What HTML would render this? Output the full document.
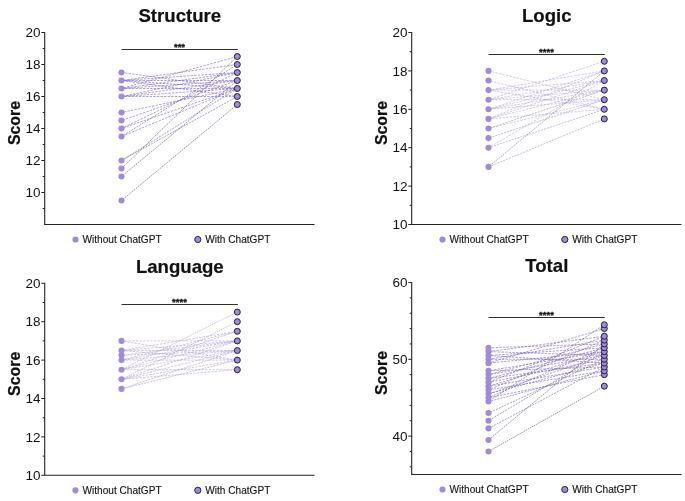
<!DOCTYPE html>
<html><head><meta charset="utf-8"><style>
html,body{margin:0;padding:0;background:#fff;}
svg{display:block;will-change:transform;transform:translateZ(0);font-family:"Liberation Sans",sans-serif;fill:#111;}
</style></head><body>
<svg width="685" height="501" viewBox="0 0 685 501">
<rect width="685" height="501" fill="#fff"/>
<text x="179.8" y="22.3" text-anchor="middle" font-size="18.6" font-weight="bold" stroke="#111" stroke-width="0.2">Structure</text>
<path d="M44.7 32.0V224.5H314.5" fill="none" stroke="#222" stroke-width="1.1"/>
<path d="M41.300000000000004 32.50H44.7" stroke="#222" stroke-width="1"/>
<text x="40.5" y="37.10" text-anchor="end" font-size="13.5">20</text>
<path d="M41.300000000000004 64.50H44.7" stroke="#222" stroke-width="1"/>
<text x="40.5" y="69.10" text-anchor="end" font-size="13.5">18</text>
<path d="M41.300000000000004 96.50H44.7" stroke="#222" stroke-width="1"/>
<text x="40.5" y="101.10" text-anchor="end" font-size="13.5">16</text>
<path d="M41.300000000000004 128.50H44.7" stroke="#222" stroke-width="1"/>
<text x="40.5" y="133.10" text-anchor="end" font-size="13.5">14</text>
<path d="M41.300000000000004 160.50H44.7" stroke="#222" stroke-width="1"/>
<text x="40.5" y="165.10" text-anchor="end" font-size="13.5">12</text>
<path d="M41.300000000000004 192.50H44.7" stroke="#222" stroke-width="1"/>
<text x="40.5" y="197.10" text-anchor="end" font-size="13.5">10</text>
<path d="M42.7 48.50H44.7" stroke="#222" stroke-width="1"/>
<path d="M42.7 80.50H44.7" stroke="#222" stroke-width="1"/>
<path d="M42.7 112.50H44.7" stroke="#222" stroke-width="1"/>
<path d="M42.7 144.50H44.7" stroke="#222" stroke-width="1"/>
<path d="M42.7 176.50H44.7" stroke="#222" stroke-width="1"/>
<path d="M42.7 208.50H44.7" stroke="#222" stroke-width="1"/>
<text transform="translate(20.2 123) rotate(-90)" text-anchor="middle" font-size="15.9" font-weight="bold" stroke="#111" stroke-width="0.25">Score</text>
<path d="M121.5 72.50L237.3 88.50" stroke="#7a62b8" stroke-width="0.6" stroke-dasharray="2.4 1.2" stroke-dashoffset="0.00" fill="none"/>
<path d="M121.5 80.50L237.3 64.50" stroke="#7a62b8" stroke-width="0.6" stroke-dasharray="2.4 1.2" stroke-dashoffset="1.37" fill="none"/>
<path d="M121.5 80.50L237.3 72.50" stroke="#7a62b8" stroke-width="0.6" stroke-dasharray="2.4 1.2" stroke-dashoffset="2.74" fill="none"/>
<path d="M121.5 80.50L237.3 80.50" stroke="#7a62b8" stroke-width="0.6" stroke-dasharray="2.4 1.2" stroke-dashoffset="0.51" fill="none"/>
<path d="M121.5 80.50L237.3 88.50" stroke="#7a62b8" stroke-width="0.6" stroke-dasharray="2.4 1.2" stroke-dashoffset="1.88" fill="none"/>
<path d="M121.5 80.50L237.3 96.50" stroke="#7a62b8" stroke-width="0.6" stroke-dasharray="2.4 1.2" stroke-dashoffset="3.25" fill="none"/>
<path d="M121.5 88.50L237.3 72.50" stroke="#7a62b8" stroke-width="0.6" stroke-dasharray="2.4 1.2" stroke-dashoffset="1.02" fill="none"/>
<path d="M121.5 88.50L237.3 80.50" stroke="#7a62b8" stroke-width="0.6" stroke-dasharray="2.4 1.2" stroke-dashoffset="2.39" fill="none"/>
<path d="M121.5 88.50L237.3 88.50" stroke="#7a62b8" stroke-width="0.6" stroke-dasharray="2.4 1.2" stroke-dashoffset="0.16" fill="none"/>
<path d="M121.5 88.50L237.3 56.50" stroke="#7a62b8" stroke-width="0.6" stroke-dasharray="2.4 1.2" stroke-dashoffset="1.53" fill="none"/>
<path d="M121.5 96.50L237.3 72.50" stroke="#7a62b8" stroke-width="0.6" stroke-dasharray="2.4 1.2" stroke-dashoffset="2.90" fill="none"/>
<path d="M121.5 96.50L237.3 96.50" stroke="#7a62b8" stroke-width="0.6" stroke-dasharray="2.4 1.2" stroke-dashoffset="0.67" fill="none"/>
<path d="M121.5 96.50L237.3 80.50" stroke="#7a62b8" stroke-width="0.6" stroke-dasharray="2.4 1.2" stroke-dashoffset="2.04" fill="none"/>
<path d="M121.5 96.50L237.3 88.50" stroke="#7a62b8" stroke-width="0.6" stroke-dasharray="2.4 1.2" stroke-dashoffset="3.41" fill="none"/>
<path d="M121.5 112.50L237.3 88.50" stroke="#7a62b8" stroke-width="0.6" stroke-dasharray="2.4 1.2" stroke-dashoffset="1.18" fill="none"/>
<path d="M121.5 120.50L237.3 80.50" stroke="#7a62b8" stroke-width="0.6" stroke-dasharray="2.4 1.2" stroke-dashoffset="2.55" fill="none"/>
<path d="M121.5 128.50L237.3 72.50" stroke="#7a62b8" stroke-width="0.6" stroke-dasharray="2.4 1.2" stroke-dashoffset="0.32" fill="none"/>
<path d="M121.5 128.50L237.3 88.50" stroke="#7a62b8" stroke-width="0.6" stroke-dasharray="2.4 1.2" stroke-dashoffset="1.69" fill="none"/>
<path d="M121.5 136.50L237.3 88.50" stroke="#7a62b8" stroke-width="0.6" stroke-dasharray="2.4 1.2" stroke-dashoffset="3.06" fill="none"/>
<path d="M121.5 136.50L237.3 64.50" stroke="#6c5f9a" stroke-width="0.6" stroke-dasharray="2 1.1" stroke-dashoffset="0.83" fill="none"/>
<path d="M121.5 160.50L237.3 88.50" stroke="#6c5f9a" stroke-width="0.6" stroke-dasharray="2 1.1" stroke-dashoffset="2.20" fill="none"/>
<path d="M121.5 160.50L237.3 96.50" stroke="#6c5f9a" stroke-width="0.6" stroke-dasharray="2 1.1" stroke-dashoffset="3.57" fill="none"/>
<path d="M121.5 168.50L237.3 56.50" stroke="#4d4668" stroke-width="0.6" stroke-dasharray="1.5 0.9" stroke-dashoffset="1.34" fill="none"/>
<path d="M121.5 176.50L237.3 80.50" stroke="#4d4668" stroke-width="0.6" stroke-dasharray="1.5 0.9" stroke-dashoffset="2.71" fill="none"/>
<path d="M121.5 200.50L237.3 104.50" stroke="#4d4668" stroke-width="0.6" stroke-dasharray="1.5 0.9" stroke-dashoffset="0.48" fill="none"/>
<circle cx="121.5" cy="200.50" r="3.05" fill="#a18ad6"/>
<circle cx="121.5" cy="176.50" r="3.05" fill="#a18ad6"/>
<circle cx="121.5" cy="168.50" r="3.05" fill="#a18ad6"/>
<circle cx="121.5" cy="160.50" r="3.05" fill="#a18ad6"/>
<circle cx="121.5" cy="136.50" r="3.05" fill="#a18ad6"/>
<circle cx="121.5" cy="128.50" r="3.05" fill="#a18ad6"/>
<circle cx="121.5" cy="120.50" r="3.05" fill="#a18ad6"/>
<circle cx="121.5" cy="112.50" r="3.05" fill="#a18ad6"/>
<circle cx="121.5" cy="96.50" r="3.05" fill="#a18ad6"/>
<circle cx="121.5" cy="88.50" r="3.05" fill="#a18ad6"/>
<circle cx="121.5" cy="80.50" r="3.05" fill="#a18ad6"/>
<circle cx="121.5" cy="72.50" r="3.05" fill="#a18ad6"/>
<circle cx="237.3" cy="104.50" r="3" fill="#a18ad6" stroke="#221c44" stroke-width="1"/>
<circle cx="237.3" cy="96.50" r="3" fill="#a18ad6" stroke="#221c44" stroke-width="1"/>
<circle cx="237.3" cy="88.50" r="3" fill="#a18ad6" stroke="#221c44" stroke-width="1"/>
<circle cx="237.3" cy="80.50" r="3" fill="#a18ad6" stroke="#221c44" stroke-width="1"/>
<circle cx="237.3" cy="72.50" r="3" fill="#a18ad6" stroke="#221c44" stroke-width="1"/>
<circle cx="237.3" cy="64.50" r="3" fill="#a18ad6" stroke="#221c44" stroke-width="1"/>
<circle cx="237.3" cy="56.50" r="3" fill="#a18ad6" stroke="#221c44" stroke-width="1"/>
<path d="M121.5 49.5H237.8" stroke="#2e2e2e" stroke-width="1"/>
<text x="179.5" y="49.6" text-anchor="middle" font-size="9.5" font-weight="bold" stroke="#111" stroke-width="0.3">***</text>
<circle cx="75.5" cy="239.5" r="3.1" fill="#a18ad6"/>
<text x="82.5" y="243.1" font-size="10.1" stroke="#111" stroke-width="0.12">Without ChatGPT</text>
<circle cx="197.8" cy="239.5" r="3.1" fill="#a18ad6" stroke="#221c44" stroke-width="1"/>
<text x="205.3" y="243.1" font-size="10.1" stroke="#111" stroke-width="0.12">With ChatGPT</text>
<text x="546.8" y="22.3" text-anchor="middle" font-size="18.6" font-weight="bold" stroke="#111" stroke-width="0.2">Logic</text>
<path d="M411.7 32.0V224.5H681.5" fill="none" stroke="#222" stroke-width="1.1"/>
<path d="M408.3 32.50H411.7" stroke="#222" stroke-width="1"/>
<text x="407.5" y="37.10" text-anchor="end" font-size="13.5">20</text>
<path d="M408.3 70.90H411.7" stroke="#222" stroke-width="1"/>
<text x="407.5" y="75.50" text-anchor="end" font-size="13.5">18</text>
<path d="M408.3 109.30H411.7" stroke="#222" stroke-width="1"/>
<text x="407.5" y="113.90" text-anchor="end" font-size="13.5">16</text>
<path d="M408.3 147.70H411.7" stroke="#222" stroke-width="1"/>
<text x="407.5" y="152.30" text-anchor="end" font-size="13.5">14</text>
<path d="M408.3 186.10H411.7" stroke="#222" stroke-width="1"/>
<text x="407.5" y="190.70" text-anchor="end" font-size="13.5">12</text>
<path d="M408.3 224.50H411.7" stroke="#222" stroke-width="1"/>
<text x="407.5" y="229.10" text-anchor="end" font-size="13.5">10</text>
<path d="M409.7 51.70H411.7" stroke="#222" stroke-width="1"/>
<path d="M409.7 90.10H411.7" stroke="#222" stroke-width="1"/>
<path d="M409.7 128.50H411.7" stroke="#222" stroke-width="1"/>
<path d="M409.7 166.90H411.7" stroke="#222" stroke-width="1"/>
<path d="M409.7 205.30H411.7" stroke="#222" stroke-width="1"/>
<text transform="translate(387.2 123) rotate(-90)" text-anchor="middle" font-size="15.9" font-weight="bold" stroke="#111" stroke-width="0.25">Score</text>
<path d="M488.5 70.90L604.3 99.70" stroke="#b7a8dc" stroke-width="0.6" stroke-dasharray="2.4 1.2" stroke-dashoffset="0.00" fill="none"/>
<path d="M488.5 80.50L604.3 109.30" stroke="#b7a8dc" stroke-width="0.6" stroke-dasharray="2.4 1.2" stroke-dashoffset="1.37" fill="none"/>
<path d="M488.5 90.10L604.3 90.10" stroke="#b7a8dc" stroke-width="0.6" stroke-dasharray="2.4 1.2" stroke-dashoffset="2.74" fill="none"/>
<path d="M488.5 90.10L604.3 80.50" stroke="#b7a8dc" stroke-width="0.6" stroke-dasharray="2.4 1.2" stroke-dashoffset="0.51" fill="none"/>
<path d="M488.5 90.10L604.3 109.30" stroke="#b7a8dc" stroke-width="0.6" stroke-dasharray="2.4 1.2" stroke-dashoffset="1.88" fill="none"/>
<path d="M488.5 90.10L604.3 70.90" stroke="#b7a8dc" stroke-width="0.6" stroke-dasharray="2.4 1.2" stroke-dashoffset="3.25" fill="none"/>
<path d="M488.5 99.70L604.3 90.10" stroke="#b7a8dc" stroke-width="0.6" stroke-dasharray="2.4 1.2" stroke-dashoffset="1.02" fill="none"/>
<path d="M488.5 99.70L604.3 80.50" stroke="#b7a8dc" stroke-width="0.6" stroke-dasharray="2.4 1.2" stroke-dashoffset="2.39" fill="none"/>
<path d="M488.5 99.70L604.3 99.70" stroke="#b7a8dc" stroke-width="0.6" stroke-dasharray="2.4 1.2" stroke-dashoffset="0.16" fill="none"/>
<path d="M488.5 99.70L604.3 61.30" stroke="#b7a8dc" stroke-width="0.6" stroke-dasharray="2.4 1.2" stroke-dashoffset="1.53" fill="none"/>
<path d="M488.5 109.30L604.3 90.10" stroke="#b7a8dc" stroke-width="0.6" stroke-dasharray="2.4 1.2" stroke-dashoffset="2.90" fill="none"/>
<path d="M488.5 109.30L604.3 80.50" stroke="#b7a8dc" stroke-width="0.6" stroke-dasharray="2.4 1.2" stroke-dashoffset="0.67" fill="none"/>
<path d="M488.5 109.30L604.3 99.70" stroke="#b7a8dc" stroke-width="0.6" stroke-dasharray="2.4 1.2" stroke-dashoffset="2.04" fill="none"/>
<path d="M488.5 109.30L604.3 70.90" stroke="#b7a8dc" stroke-width="0.6" stroke-dasharray="2.4 1.2" stroke-dashoffset="3.41" fill="none"/>
<path d="M488.5 118.90L604.3 90.10" stroke="#b7a8dc" stroke-width="0.6" stroke-dasharray="2.4 1.2" stroke-dashoffset="1.18" fill="none"/>
<path d="M488.5 118.90L604.3 80.50" stroke="#b7a8dc" stroke-width="0.6" stroke-dasharray="2.4 1.2" stroke-dashoffset="2.55" fill="none"/>
<path d="M488.5 118.90L604.3 109.30" stroke="#b7a8dc" stroke-width="0.6" stroke-dasharray="2.4 1.2" stroke-dashoffset="0.32" fill="none"/>
<path d="M488.5 118.90L604.3 70.90" stroke="#b7a8dc" stroke-width="0.6" stroke-dasharray="2.4 1.2" stroke-dashoffset="1.69" fill="none"/>
<path d="M488.5 128.50L604.3 99.70" stroke="#b7a8dc" stroke-width="0.6" stroke-dasharray="2.4 1.2" stroke-dashoffset="3.06" fill="none"/>
<path d="M488.5 128.50L604.3 90.10" stroke="#9a8fbc" stroke-width="0.6" stroke-dasharray="2 1.1" stroke-dashoffset="0.83" fill="none"/>
<path d="M488.5 138.10L604.3 99.70" stroke="#9a8fbc" stroke-width="0.6" stroke-dasharray="2 1.1" stroke-dashoffset="2.20" fill="none"/>
<path d="M488.5 147.70L604.3 109.30" stroke="#9a8fbc" stroke-width="0.6" stroke-dasharray="2 1.1" stroke-dashoffset="3.57" fill="none"/>
<path d="M488.5 147.70L604.3 80.50" stroke="#b7a8dc" stroke-width="0.6" stroke-dasharray="2.4 1.2" stroke-dashoffset="1.34" fill="none"/>
<path d="M488.5 166.90L604.3 118.90" stroke="#9a8fbc" stroke-width="0.6" stroke-dasharray="2 1.1" stroke-dashoffset="2.71" fill="none"/>
<path d="M488.5 166.90L604.3 70.90" stroke="#77708f" stroke-width="0.6" stroke-dasharray="1.5 0.9" stroke-dashoffset="0.48" fill="none"/>
<circle cx="488.5" cy="166.90" r="3.05" fill="#a18ad6"/>
<circle cx="488.5" cy="147.70" r="3.05" fill="#a18ad6"/>
<circle cx="488.5" cy="138.10" r="3.05" fill="#a18ad6"/>
<circle cx="488.5" cy="128.50" r="3.05" fill="#a18ad6"/>
<circle cx="488.5" cy="118.90" r="3.05" fill="#a18ad6"/>
<circle cx="488.5" cy="109.30" r="3.05" fill="#a18ad6"/>
<circle cx="488.5" cy="99.70" r="3.05" fill="#a18ad6"/>
<circle cx="488.5" cy="90.10" r="3.05" fill="#a18ad6"/>
<circle cx="488.5" cy="80.50" r="3.05" fill="#a18ad6"/>
<circle cx="488.5" cy="70.90" r="3.05" fill="#a18ad6"/>
<circle cx="604.3" cy="118.90" r="3" fill="#a18ad6" stroke="#221c44" stroke-width="1"/>
<circle cx="604.3" cy="109.30" r="3" fill="#a18ad6" stroke="#221c44" stroke-width="1"/>
<circle cx="604.3" cy="99.70" r="3" fill="#a18ad6" stroke="#221c44" stroke-width="1"/>
<circle cx="604.3" cy="90.10" r="3" fill="#a18ad6" stroke="#221c44" stroke-width="1"/>
<circle cx="604.3" cy="80.50" r="3" fill="#a18ad6" stroke="#221c44" stroke-width="1"/>
<circle cx="604.3" cy="70.90" r="3" fill="#a18ad6" stroke="#221c44" stroke-width="1"/>
<circle cx="604.3" cy="61.30" r="3" fill="#a18ad6" stroke="#221c44" stroke-width="1"/>
<path d="M488.5 54.5H604.8" stroke="#2e2e2e" stroke-width="1"/>
<text x="546.5" y="54.6" text-anchor="middle" font-size="9.5" font-weight="bold" stroke="#111" stroke-width="0.3">****</text>
<circle cx="442.5" cy="239.5" r="3.1" fill="#a18ad6"/>
<text x="449.5" y="243.1" font-size="10.1" stroke="#111" stroke-width="0.12">Without ChatGPT</text>
<circle cx="564.8" cy="239.5" r="3.1" fill="#a18ad6" stroke="#221c44" stroke-width="1"/>
<text x="572.3" y="243.1" font-size="10.1" stroke="#111" stroke-width="0.12">With ChatGPT</text>
<text x="179.8" y="273.1" text-anchor="middle" font-size="18.6" font-weight="bold" stroke="#111" stroke-width="0.2">Language</text>
<path d="M44.7 282.8V475.3H314.5" fill="none" stroke="#222" stroke-width="1.1"/>
<path d="M41.300000000000004 283.30H44.7" stroke="#222" stroke-width="1"/>
<text x="40.5" y="287.90" text-anchor="end" font-size="13.5">20</text>
<path d="M41.300000000000004 321.70H44.7" stroke="#222" stroke-width="1"/>
<text x="40.5" y="326.30" text-anchor="end" font-size="13.5">18</text>
<path d="M41.300000000000004 360.10H44.7" stroke="#222" stroke-width="1"/>
<text x="40.5" y="364.70" text-anchor="end" font-size="13.5">16</text>
<path d="M41.300000000000004 398.50H44.7" stroke="#222" stroke-width="1"/>
<text x="40.5" y="403.10" text-anchor="end" font-size="13.5">14</text>
<path d="M41.300000000000004 436.90H44.7" stroke="#222" stroke-width="1"/>
<text x="40.5" y="441.50" text-anchor="end" font-size="13.5">12</text>
<path d="M41.300000000000004 475.30H44.7" stroke="#222" stroke-width="1"/>
<text x="40.5" y="479.90" text-anchor="end" font-size="13.5">10</text>
<path d="M42.7 302.50H44.7" stroke="#222" stroke-width="1"/>
<path d="M42.7 340.90H44.7" stroke="#222" stroke-width="1"/>
<path d="M42.7 379.30H44.7" stroke="#222" stroke-width="1"/>
<path d="M42.7 417.70H44.7" stroke="#222" stroke-width="1"/>
<path d="M42.7 456.10H44.7" stroke="#222" stroke-width="1"/>
<text transform="translate(20.2 373.8) rotate(-90)" text-anchor="middle" font-size="15.9" font-weight="bold" stroke="#111" stroke-width="0.25">Score</text>
<path d="M121.5 340.90L237.3 340.90" stroke="#b3a3da" stroke-width="0.6" stroke-dasharray="2.4 1.2" stroke-dashoffset="0.00" fill="none"/>
<path d="M121.5 340.90L237.3 360.10" stroke="#b3a3da" stroke-width="0.6" stroke-dasharray="2.4 1.2" stroke-dashoffset="1.37" fill="none"/>
<path d="M121.5 350.50L237.3 340.90" stroke="#b3a3da" stroke-width="0.6" stroke-dasharray="2.4 1.2" stroke-dashoffset="2.74" fill="none"/>
<path d="M121.5 350.50L237.3 331.30" stroke="#b3a3da" stroke-width="0.6" stroke-dasharray="2.4 1.2" stroke-dashoffset="0.51" fill="none"/>
<path d="M121.5 350.50L237.3 350.50" stroke="#b3a3da" stroke-width="0.6" stroke-dasharray="2.4 1.2" stroke-dashoffset="1.88" fill="none"/>
<path d="M121.5 350.50L237.3 360.10" stroke="#b3a3da" stroke-width="0.6" stroke-dasharray="2.4 1.2" stroke-dashoffset="3.25" fill="none"/>
<path d="M121.5 355.30L237.3 340.90" stroke="#b3a3da" stroke-width="0.6" stroke-dasharray="2.4 1.2" stroke-dashoffset="1.02" fill="none"/>
<path d="M121.5 355.30L237.3 350.50" stroke="#b3a3da" stroke-width="0.6" stroke-dasharray="2.4 1.2" stroke-dashoffset="2.39" fill="none"/>
<path d="M121.5 360.10L237.3 340.90" stroke="#b3a3da" stroke-width="0.6" stroke-dasharray="2.4 1.2" stroke-dashoffset="0.16" fill="none"/>
<path d="M121.5 360.10L237.3 331.30" stroke="#b3a3da" stroke-width="0.6" stroke-dasharray="2.4 1.2" stroke-dashoffset="1.53" fill="none"/>
<path d="M121.5 360.10L237.3 360.10" stroke="#b3a3da" stroke-width="0.6" stroke-dasharray="2.4 1.2" stroke-dashoffset="2.90" fill="none"/>
<path d="M121.5 360.10L237.3 350.50" stroke="#b3a3da" stroke-width="0.6" stroke-dasharray="2.4 1.2" stroke-dashoffset="0.67" fill="none"/>
<path d="M121.5 369.70L237.3 312.10" stroke="#a8a0c0" stroke-width="0.6" stroke-dasharray="1.5 0.9" stroke-dashoffset="2.04" fill="none"/>
<path d="M121.5 369.70L237.3 340.90" stroke="#b3a3da" stroke-width="0.6" stroke-dasharray="2.4 1.2" stroke-dashoffset="3.41" fill="none"/>
<path d="M121.5 369.70L237.3 350.50" stroke="#b3a3da" stroke-width="0.6" stroke-dasharray="2.4 1.2" stroke-dashoffset="1.18" fill="none"/>
<path d="M121.5 369.70L237.3 369.70" stroke="#b3a3da" stroke-width="0.6" stroke-dasharray="2.4 1.2" stroke-dashoffset="2.55" fill="none"/>
<path d="M121.5 369.70L237.3 331.30" stroke="#b3a3da" stroke-width="0.6" stroke-dasharray="2.4 1.2" stroke-dashoffset="0.32" fill="none"/>
<path d="M121.5 379.30L237.3 321.70" stroke="#a8a0c0" stroke-width="0.6" stroke-dasharray="1.5 0.9" stroke-dashoffset="1.69" fill="none"/>
<path d="M121.5 379.30L237.3 350.50" stroke="#b3a3da" stroke-width="0.6" stroke-dasharray="2.4 1.2" stroke-dashoffset="3.06" fill="none"/>
<path d="M121.5 379.30L237.3 360.10" stroke="#b3a3da" stroke-width="0.6" stroke-dasharray="2.4 1.2" stroke-dashoffset="0.83" fill="none"/>
<path d="M121.5 379.30L237.3 340.90" stroke="#b3a3da" stroke-width="0.6" stroke-dasharray="2.4 1.2" stroke-dashoffset="2.20" fill="none"/>
<path d="M121.5 379.30L237.3 369.70" stroke="#b3a3da" stroke-width="0.6" stroke-dasharray="2.4 1.2" stroke-dashoffset="3.57" fill="none"/>
<path d="M121.5 388.90L237.3 360.10" stroke="#a398c8" stroke-width="0.6" stroke-dasharray="2 1.1" stroke-dashoffset="1.34" fill="none"/>
<path d="M121.5 388.90L237.3 350.50" stroke="#a398c8" stroke-width="0.6" stroke-dasharray="2 1.1" stroke-dashoffset="2.71" fill="none"/>
<circle cx="121.5" cy="388.90" r="3.05" fill="#a18ad6"/>
<circle cx="121.5" cy="379.30" r="3.05" fill="#a18ad6"/>
<circle cx="121.5" cy="369.70" r="3.05" fill="#a18ad6"/>
<circle cx="121.5" cy="360.10" r="3.05" fill="#a18ad6"/>
<circle cx="121.5" cy="355.30" r="3.05" fill="#a18ad6"/>
<circle cx="121.5" cy="350.50" r="3.05" fill="#a18ad6"/>
<circle cx="121.5" cy="340.90" r="3.05" fill="#a18ad6"/>
<circle cx="237.3" cy="369.70" r="3" fill="#a18ad6" stroke="#221c44" stroke-width="1"/>
<circle cx="237.3" cy="360.10" r="3" fill="#a18ad6" stroke="#221c44" stroke-width="1"/>
<circle cx="237.3" cy="350.50" r="3" fill="#a18ad6" stroke="#221c44" stroke-width="1"/>
<circle cx="237.3" cy="340.90" r="3" fill="#a18ad6" stroke="#221c44" stroke-width="1"/>
<circle cx="237.3" cy="331.30" r="3" fill="#a18ad6" stroke="#221c44" stroke-width="1"/>
<circle cx="237.3" cy="321.70" r="3" fill="#a18ad6" stroke="#221c44" stroke-width="1"/>
<circle cx="237.3" cy="312.10" r="3" fill="#a18ad6" stroke="#221c44" stroke-width="1"/>
<path d="M121.5 304.5H237.8" stroke="#2e2e2e" stroke-width="1"/>
<text x="179.5" y="304.6" text-anchor="middle" font-size="9.5" font-weight="bold" stroke="#111" stroke-width="0.3">****</text>
<circle cx="75.5" cy="490.3" r="3.1" fill="#a18ad6"/>
<text x="82.5" y="493.90000000000003" font-size="10.1" stroke="#111" stroke-width="0.12">Without ChatGPT</text>
<circle cx="197.8" cy="490.3" r="3.1" fill="#a18ad6" stroke="#221c44" stroke-width="1"/>
<text x="205.3" y="493.90000000000003" font-size="10.1" stroke="#111" stroke-width="0.12">With ChatGPT</text>
<text x="546.8" y="272.3" text-anchor="middle" font-size="18.6" font-weight="bold" stroke="#111" stroke-width="0.2">Total</text>
<path d="M411.7 282.0V474.5H681.5" fill="none" stroke="#222" stroke-width="1.1"/>
<path d="M408.3 282.50H411.7" stroke="#222" stroke-width="1"/>
<text x="407.5" y="287.10" text-anchor="end" font-size="13.5">60</text>
<path d="M408.3 359.30H411.7" stroke="#222" stroke-width="1"/>
<text x="407.5" y="363.90" text-anchor="end" font-size="13.5">50</text>
<path d="M408.3 436.10H411.7" stroke="#222" stroke-width="1"/>
<text x="407.5" y="440.70" text-anchor="end" font-size="13.5">40</text>
<path d="M409.7 297.86H411.7" stroke="#222" stroke-width="1"/>
<path d="M409.7 313.22H411.7" stroke="#222" stroke-width="1"/>
<path d="M409.7 328.58H411.7" stroke="#222" stroke-width="1"/>
<path d="M409.7 343.94H411.7" stroke="#222" stroke-width="1"/>
<path d="M409.7 374.66H411.7" stroke="#222" stroke-width="1"/>
<path d="M409.7 390.02H411.7" stroke="#222" stroke-width="1"/>
<path d="M409.7 405.38H411.7" stroke="#222" stroke-width="1"/>
<path d="M409.7 420.74H411.7" stroke="#222" stroke-width="1"/>
<path d="M409.7 451.46H411.7" stroke="#222" stroke-width="1"/>
<path d="M409.7 466.82H411.7" stroke="#222" stroke-width="1"/>
<text transform="translate(387.2 373.0) rotate(-90)" text-anchor="middle" font-size="15.9" font-weight="bold" stroke="#111" stroke-width="0.25">Score</text>
<path d="M488.5 347.78L604.3 343.94" stroke="#7a62b8" stroke-width="0.6" stroke-dasharray="2.4 1.2" stroke-dashoffset="0.00" fill="none"/>
<path d="M488.5 351.62L604.3 355.46" stroke="#7a62b8" stroke-width="0.6" stroke-dasharray="2.4 1.2" stroke-dashoffset="1.37" fill="none"/>
<path d="M488.5 351.62L604.3 336.26" stroke="#7a62b8" stroke-width="0.6" stroke-dasharray="2.4 1.2" stroke-dashoffset="2.74" fill="none"/>
<path d="M488.5 355.46L604.3 347.78" stroke="#7a62b8" stroke-width="0.6" stroke-dasharray="2.4 1.2" stroke-dashoffset="0.51" fill="none"/>
<path d="M488.5 355.46L604.3 363.14" stroke="#7a62b8" stroke-width="0.6" stroke-dasharray="2.4 1.2" stroke-dashoffset="1.88" fill="none"/>
<path d="M488.5 359.30L604.3 340.10" stroke="#7a62b8" stroke-width="0.6" stroke-dasharray="2.4 1.2" stroke-dashoffset="3.25" fill="none"/>
<path d="M488.5 359.30L604.3 359.30" stroke="#7a62b8" stroke-width="0.6" stroke-dasharray="2.4 1.2" stroke-dashoffset="1.02" fill="none"/>
<path d="M488.5 363.14L604.3 351.62" stroke="#7a62b8" stroke-width="0.6" stroke-dasharray="2.4 1.2" stroke-dashoffset="2.39" fill="none"/>
<path d="M488.5 363.14L604.3 328.58" stroke="#7a62b8" stroke-width="0.6" stroke-dasharray="2.4 1.2" stroke-dashoffset="0.16" fill="none"/>
<path d="M488.5 370.82L604.3 351.62" stroke="#7a62b8" stroke-width="0.6" stroke-dasharray="2.4 1.2" stroke-dashoffset="1.53" fill="none"/>
<path d="M488.5 370.82L604.3 366.98" stroke="#7a62b8" stroke-width="0.6" stroke-dasharray="2.4 1.2" stroke-dashoffset="2.90" fill="none"/>
<path d="M488.5 374.66L604.3 343.94" stroke="#7a62b8" stroke-width="0.6" stroke-dasharray="2.4 1.2" stroke-dashoffset="0.67" fill="none"/>
<path d="M488.5 374.66L604.3 355.46" stroke="#7a62b8" stroke-width="0.6" stroke-dasharray="2.4 1.2" stroke-dashoffset="2.04" fill="none"/>
<path d="M488.5 378.50L604.3 347.78" stroke="#7a62b8" stroke-width="0.6" stroke-dasharray="2.4 1.2" stroke-dashoffset="3.41" fill="none"/>
<path d="M488.5 378.50L604.3 363.14" stroke="#7a62b8" stroke-width="0.6" stroke-dasharray="2.4 1.2" stroke-dashoffset="1.18" fill="none"/>
<path d="M488.5 382.34L604.3 336.26" stroke="#7a62b8" stroke-width="0.6" stroke-dasharray="2.4 1.2" stroke-dashoffset="2.55" fill="none"/>
<path d="M488.5 382.34L604.3 359.30" stroke="#7a62b8" stroke-width="0.6" stroke-dasharray="2.4 1.2" stroke-dashoffset="0.32" fill="none"/>
<path d="M488.5 386.18L604.3 366.98" stroke="#7a62b8" stroke-width="0.6" stroke-dasharray="2.4 1.2" stroke-dashoffset="1.69" fill="none"/>
<path d="M488.5 386.18L604.3 351.62" stroke="#7a62b8" stroke-width="0.6" stroke-dasharray="2.4 1.2" stroke-dashoffset="3.06" fill="none"/>
<path d="M488.5 390.02L604.3 340.10" stroke="#7a62b8" stroke-width="0.6" stroke-dasharray="2.4 1.2" stroke-dashoffset="0.83" fill="none"/>
<path d="M488.5 390.02L604.3 370.82" stroke="#7a62b8" stroke-width="0.6" stroke-dasharray="2.4 1.2" stroke-dashoffset="2.20" fill="none"/>
<path d="M488.5 393.86L604.3 355.46" stroke="#7a62b8" stroke-width="0.6" stroke-dasharray="2.4 1.2" stroke-dashoffset="3.57" fill="none"/>
<path d="M488.5 393.86L604.3 363.14" stroke="#6c5f9a" stroke-width="0.6" stroke-dasharray="2 1.1" stroke-dashoffset="1.34" fill="none"/>
<path d="M488.5 397.70L604.3 374.66" stroke="#7a62b8" stroke-width="0.6" stroke-dasharray="2.4 1.2" stroke-dashoffset="2.71" fill="none"/>
<path d="M488.5 397.70L604.3 347.78" stroke="#6c5f9a" stroke-width="0.6" stroke-dasharray="2 1.1" stroke-dashoffset="0.48" fill="none"/>
<path d="M488.5 401.54L604.3 324.74" stroke="#6c5f9a" stroke-width="0.6" stroke-dasharray="2 1.1" stroke-dashoffset="1.85" fill="none"/>
<path d="M488.5 401.54L604.3 370.82" stroke="#6c5f9a" stroke-width="0.6" stroke-dasharray="2 1.1" stroke-dashoffset="3.22" fill="none"/>
<path d="M488.5 413.06L604.3 359.30" stroke="#6c5f9a" stroke-width="0.6" stroke-dasharray="2 1.1" stroke-dashoffset="0.99" fill="none"/>
<path d="M488.5 420.74L604.3 351.62" stroke="#6c5f9a" stroke-width="0.6" stroke-dasharray="2 1.1" stroke-dashoffset="2.36" fill="none"/>
<path d="M488.5 428.42L604.3 366.98" stroke="#6c5f9a" stroke-width="0.6" stroke-dasharray="2 1.1" stroke-dashoffset="0.13" fill="none"/>
<path d="M488.5 439.94L604.3 343.94" stroke="#4d4668" stroke-width="0.6" stroke-dasharray="1.5 0.9" stroke-dashoffset="1.50" fill="none"/>
<path d="M488.5 451.46L604.3 386.18" stroke="#4d4668" stroke-width="0.6" stroke-dasharray="1.5 0.9" stroke-dashoffset="2.87" fill="none"/>
<circle cx="488.5" cy="451.46" r="3.05" fill="#a18ad6"/>
<circle cx="488.5" cy="439.94" r="3.05" fill="#a18ad6"/>
<circle cx="488.5" cy="428.42" r="3.05" fill="#a18ad6"/>
<circle cx="488.5" cy="420.74" r="3.05" fill="#a18ad6"/>
<circle cx="488.5" cy="413.06" r="3.05" fill="#a18ad6"/>
<circle cx="488.5" cy="401.54" r="3.05" fill="#a18ad6"/>
<circle cx="488.5" cy="397.70" r="3.05" fill="#a18ad6"/>
<circle cx="488.5" cy="393.86" r="3.05" fill="#a18ad6"/>
<circle cx="488.5" cy="390.02" r="3.05" fill="#a18ad6"/>
<circle cx="488.5" cy="386.18" r="3.05" fill="#a18ad6"/>
<circle cx="488.5" cy="382.34" r="3.05" fill="#a18ad6"/>
<circle cx="488.5" cy="378.50" r="3.05" fill="#a18ad6"/>
<circle cx="488.5" cy="374.66" r="3.05" fill="#a18ad6"/>
<circle cx="488.5" cy="370.82" r="3.05" fill="#a18ad6"/>
<circle cx="488.5" cy="363.14" r="3.05" fill="#a18ad6"/>
<circle cx="488.5" cy="359.30" r="3.05" fill="#a18ad6"/>
<circle cx="488.5" cy="355.46" r="3.05" fill="#a18ad6"/>
<circle cx="488.5" cy="351.62" r="3.05" fill="#a18ad6"/>
<circle cx="488.5" cy="347.78" r="3.05" fill="#a18ad6"/>
<circle cx="604.3" cy="386.18" r="3" fill="#a18ad6" stroke="#221c44" stroke-width="1"/>
<circle cx="604.3" cy="374.66" r="3" fill="#a18ad6" stroke="#221c44" stroke-width="1"/>
<circle cx="604.3" cy="370.82" r="3" fill="#a18ad6" stroke="#221c44" stroke-width="1"/>
<circle cx="604.3" cy="366.98" r="3" fill="#a18ad6" stroke="#221c44" stroke-width="1"/>
<circle cx="604.3" cy="363.14" r="3" fill="#a18ad6" stroke="#221c44" stroke-width="1"/>
<circle cx="604.3" cy="359.30" r="3" fill="#a18ad6" stroke="#221c44" stroke-width="1"/>
<circle cx="604.3" cy="355.46" r="3" fill="#a18ad6" stroke="#221c44" stroke-width="1"/>
<circle cx="604.3" cy="351.62" r="3" fill="#a18ad6" stroke="#221c44" stroke-width="1"/>
<circle cx="604.3" cy="347.78" r="3" fill="#a18ad6" stroke="#221c44" stroke-width="1"/>
<circle cx="604.3" cy="343.94" r="3" fill="#a18ad6" stroke="#221c44" stroke-width="1"/>
<circle cx="604.3" cy="340.10" r="3" fill="#a18ad6" stroke="#221c44" stroke-width="1"/>
<circle cx="604.3" cy="336.26" r="3" fill="#a18ad6" stroke="#221c44" stroke-width="1"/>
<circle cx="604.3" cy="328.58" r="3" fill="#a18ad6" stroke="#221c44" stroke-width="1"/>
<circle cx="604.3" cy="324.74" r="3" fill="#a18ad6" stroke="#221c44" stroke-width="1"/>
<path d="M488.5 317.5H604.8" stroke="#2e2e2e" stroke-width="1"/>
<text x="546.5" y="317.6" text-anchor="middle" font-size="9.5" font-weight="bold" stroke="#111" stroke-width="0.3">****</text>
<circle cx="442.5" cy="489.5" r="3.1" fill="#a18ad6"/>
<text x="449.5" y="493.1" font-size="10.1" stroke="#111" stroke-width="0.12">Without ChatGPT</text>
<circle cx="564.8" cy="489.5" r="3.1" fill="#a18ad6" stroke="#221c44" stroke-width="1"/>
<text x="572.3" y="493.1" font-size="10.1" stroke="#111" stroke-width="0.12">With ChatGPT</text>
</svg>
</body></html>
